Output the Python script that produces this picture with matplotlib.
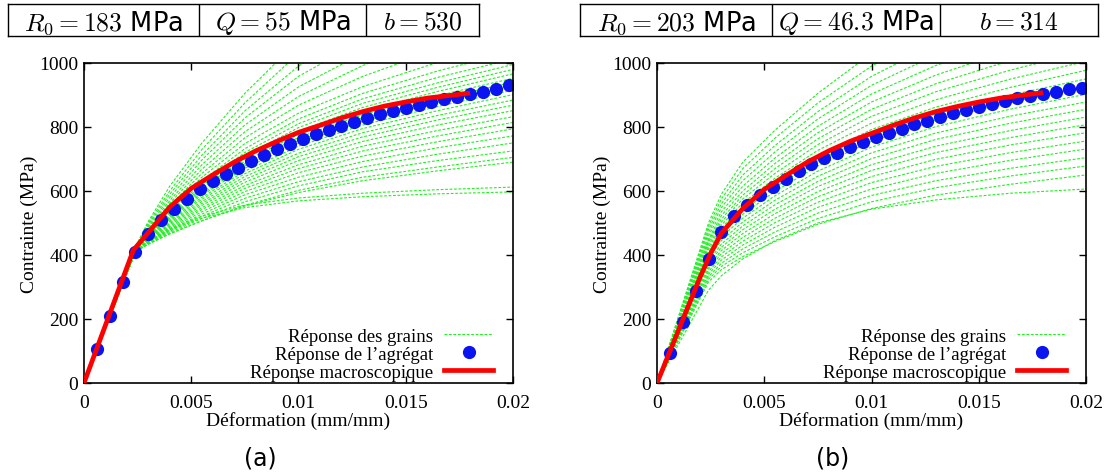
import matplotlib
matplotlib.use('Agg')
from matplotlib import pyplot as plt
from matplotlib.lines import Line2D
import numpy as np

plt.rcParams['mathtext.fontset'] = 'cm'

# strain grid used for the grain curves
eps_g = [0, 0.0024, 0.003, 0.004, 0.0055, 0.0075, 0.01, 0.013, 0.0165, 0.02]

grains_a = [
    [0, 425, 505, 615, 750, 905, 1070, 1220, 1360, 1490],
    [0, 425, 500, 600, 730, 875, 1030, 1160, 1290, 1410],
    [0, 423, 495, 590, 712, 850, 990, 1110, 1230, 1340],
    [0, 423, 490, 580, 697, 828, 958, 1070, 1180, 1280],
    [0, 421, 486, 570, 682, 806, 925, 1030, 1130, 1220],
    [0, 421, 482, 562, 668, 785, 895, 992, 1085, 1165],
    [0, 420, 478, 555, 655, 766, 868, 958, 1042, 1115],
    [0, 420, 475, 548, 643, 748, 843, 926, 1002, 1070],
    [0, 420, 472, 542, 632, 732, 825, 905, 975, 1035],
    [0, 419, 470, 537, 623, 720, 810, 888, 955, 1012],
    [0, 419, 468, 533, 616, 710, 798, 874, 938, 995],
    [0, 418, 466, 529, 609, 701, 787, 861, 924, 980],
    [0, 418, 464, 525, 603, 693, 777, 849, 911, 966],
    [0, 417, 462, 521, 597, 685, 767, 838, 898, 952],
    [0, 417, 460, 518, 592, 678, 758, 828, 887, 940],
    [0, 416, 458, 514, 587, 671, 750, 818, 877, 930],
    [0, 416, 456, 510, 580, 662, 740, 806, 864, 915],
    [0, 415, 454, 506, 574, 654, 730, 795, 851, 901],
    [0, 415, 452, 502, 567, 645, 718, 782, 836, 884],
    [0, 414, 450, 498, 561, 636, 707, 769, 822, 868],
    [0, 414, 448, 494, 555, 627, 695, 755, 806, 851],
    [0, 413, 446, 490, 548, 617, 682, 740, 789, 832],
    [0, 413, 444, 486, 542, 608, 670, 725, 772, 814],
    [0, 412, 442, 482, 535, 598, 657, 709, 754, 794],
    [0, 412, 440, 478, 528, 588, 643, 692, 735, 772],
    [0, 411, 438, 474, 521, 577, 629, 675, 715, 750],
    [0, 411, 436, 470, 514, 566, 616, 660, 695, 725],
    [0, 410, 434, 466, 507, 555, 602, 643, 675, 705],
    [0, 410, 434, 466, 507, 553, 595, 632, 663, 690],
    [0, 410, 440, 478, 515, 548, 569, 582, 591, 597],
    [0, 410, 442, 482, 521, 556, 578, 593, 604, 612],
]

grains_b = [
    [0, 500, 590, 690, 790, 905, 1030, 1150, 1270, 1370],
    [0, 490, 575, 670, 765, 875, 990, 1100, 1210, 1300],
    [0, 480, 560, 650, 742, 848, 958, 1060, 1160, 1245],
    [0, 470, 548, 632, 722, 825, 930, 1025, 1115, 1195],
    [0, 460, 535, 615, 703, 802, 903, 992, 1075, 1150],
    [0, 450, 523, 600, 686, 782, 878, 962, 1040, 1110],
    [0, 445, 512, 587, 670, 763, 855, 935, 1008, 1072],
    [0, 440, 503, 575, 655, 745, 833, 910, 978, 1037],
    [0, 432, 494, 562, 640, 727, 812, 885, 950, 1005],
    [0, 425, 485, 550, 626, 710, 792, 862, 924, 977],
    [0, 418, 476, 538, 612, 694, 773, 841, 900, 950],
    [0, 410, 467, 527, 599, 678, 755, 821, 878, 925],
    [0, 400, 456, 515, 585, 662, 737, 801, 856, 902],
    [0, 390, 445, 503, 571, 646, 719, 781, 834, 878],
    [0, 380, 434, 491, 557, 630, 701, 761, 812, 855],
    [0, 372, 424, 479, 543, 614, 682, 740, 789, 831],
    [0, 364, 414, 467, 529, 598, 664, 720, 767, 807],
    [0, 356, 404, 455, 515, 582, 645, 699, 744, 782],
    [0, 348, 394, 443, 501, 565, 626, 677, 720, 756],
    [0, 340, 384, 431, 487, 549, 606, 655, 696, 731],
    [0, 332, 374, 419, 472, 531, 586, 632, 671, 704],
    [0, 324, 364, 407, 457, 514, 566, 610, 647, 678],
    [0, 316, 354, 395, 442, 496, 545, 587, 621, 650],
    [0, 290, 335, 388, 445, 500, 543, 572, 593, 606],
]

# aggregate response (blue dots)
eps_dots = [0.0006, 0.0012, 0.0018, 0.0024, 0.003, 0.0036, 0.0042, 0.0048, 0.0054,
            0.006, 0.0066, 0.0072, 0.0078, 0.0084, 0.009, 0.0096, 0.0102, 0.0108,
            0.0114, 0.012, 0.0126, 0.0132, 0.0138, 0.0144, 0.015, 0.0156, 0.0162,
            0.0168, 0.0174, 0.018, 0.0186, 0.0192, 0.0198]
dots_a = [105, 210, 315, 410, 465, 510, 545, 575, 605, 630, 652, 673, 693, 712, 730,
          747, 762, 777, 791, 804, 816, 828, 839, 849, 859, 868, 877, 886, 894, 902,
          910, 918, 930]
dots_b = [95, 192, 288, 386, 472, 522, 555, 588, 612, 637, 662, 685, 703, 720, 737,
          752, 767, 781, 795, 808, 820, 832, 843, 853, 863, 872, 881, 889, 896, 903,
          910, 917, 923]

# macroscopic response (red line)
eps_a = [0, 0.0023, 0.003, 0.004, 0.005, 0.006, 0.007, 0.008, 0.009, 0.01, 0.011,
         0.012, 0.013, 0.014, 0.015, 0.016, 0.017, 0.018]
macro_a = [0, 415, 470, 550, 608, 650, 690, 725, 755, 783, 805, 828, 848, 865, 878,
           890, 898, 906]
eps_b = [0, 0.001, 0.002, 0.0025, 0.003, 0.004, 0.005, 0.006, 0.007, 0.008, 0.009,
         0.01, 0.011, 0.012, 0.013, 0.014, 0.015, 0.016, 0.017, 0.018]
macro_b = [0, 165, 330, 405, 468, 545, 605, 648, 690, 725, 755, 780, 805, 828, 848,
           864, 878, 890, 899, 907]

headers_a = [r'$R_0 = 183$ MPa', r'$Q = 55$ MPa', r'$b = 530$']
headers_b = [r'$R_0 = 203$ MPa', r'$Q = 46.3$ MPa', r'$b = 314$']

serif = 'Liberation Serif'
green = '#22f022'
blue = '#0a14f0'

fig = plt.figure(figsize=(11.08, 4.77), dpi=100)


def panel(rect, grains, dots, eps_m, macro, headers, box, caption):
    ax = fig.add_axes(rect)
    for g in grains:
        ax.plot(eps_g, g, color=green, lw=0.8, dashes=(2.5, 1.5), zorder=1)
    ax.plot(eps_dots, dots, 'o', color=blue, ms=9.5, mec='none', zorder=2)
    ax.plot(eps_m, macro, color='#ff0000', lw=3.4, zorder=3, solid_capstyle='butt')
    ax.set_xlim(0, 0.02)
    ax.set_ylim(0, 1000)
    ax.set_xticks([0, 0.005, 0.01, 0.015, 0.02])
    ax.set_xticklabels(['0', '0.005', '0.01', '0.015', '0.02'])
    ax.set_yticks([0, 200, 400, 600, 800, 1000])
    ax.tick_params(direction='in', top=True, right=True, length=5, width=1,
                   labelsize=14)
    ax.tick_params(axis='x', pad=8)
    ax.tick_params(axis='y', pad=4)
    for lab in ax.get_xticklabels() + ax.get_yticklabels():
        lab.set_family(serif)
    for s in ax.spines.values():
        s.set_linewidth(1.2)
    ax.set_xlabel('Déformation (mm/mm)', family=serif, fontsize=14, labelpad=0)
    ax.set_ylabel('Contrainte (MPa)', family=serif, fontsize=14, labelpad=1)

    handles = [Line2D([], [], color=green, lw=0.8, dashes=(2.5, 1.5)),
               Line2D([], [], ls='none', marker='o', color=blue, ms=9.5, mec='none'),
               Line2D([], [], color='#ff0000', lw=3.4)]
    ax.legend(handles, ['Réponse des grains', 'Réponse de l’agrégat',
                        'Réponse macroscopique'],
              loc='lower right', bbox_to_anchor=(0.962, -0.005), frameon=False,
              markerfirst=False, prop={'family': serif, 'size': 13.5},
              handlelength=2.6, labelspacing=0.05, borderaxespad=0,
              borderpad=0.2, handletextpad=0.6)

    # header table
    x0, y0, w, h, divs = box
    bax = fig.add_axes([x0, y0, w, h])
    bax.set_xlim(0, 1)
    bax.set_ylim(0, 1)
    bax.set_xticks([])
    bax.set_yticks([])
    for s in bax.spines.values():
        s.set_linewidth(1.0)
    edges = [0] + divs + [1]
    for d in divs:
        bax.axvline(d, color='black', lw=1.0)
    for i, t in enumerate(headers):
        bax.text((edges[i] + edges[i + 1]) / 2, 0.45, t, ha='center', va='center',
                 fontsize=18.5)

    fig.text(rect[0] + rect[2] * 0.41, 0.038, caption, ha='center', va='center',
             fontsize=17)


panel([0.0758, 0.195, 0.3872, 0.671], grains_a, dots_a, eps_a, macro_a, headers_a,
      (0.0072, 0.922, 0.4255, 0.067, [0.406, 0.76]), '(a)')
panel([0.593, 0.195, 0.3872, 0.671], grains_b, dots_b, eps_b, macro_b, headers_b,
      (0.5235, 0.922, 0.4675, 0.067, [0.371, 0.695]), '(b)')

fig.savefig('out.png', dpi=100)
